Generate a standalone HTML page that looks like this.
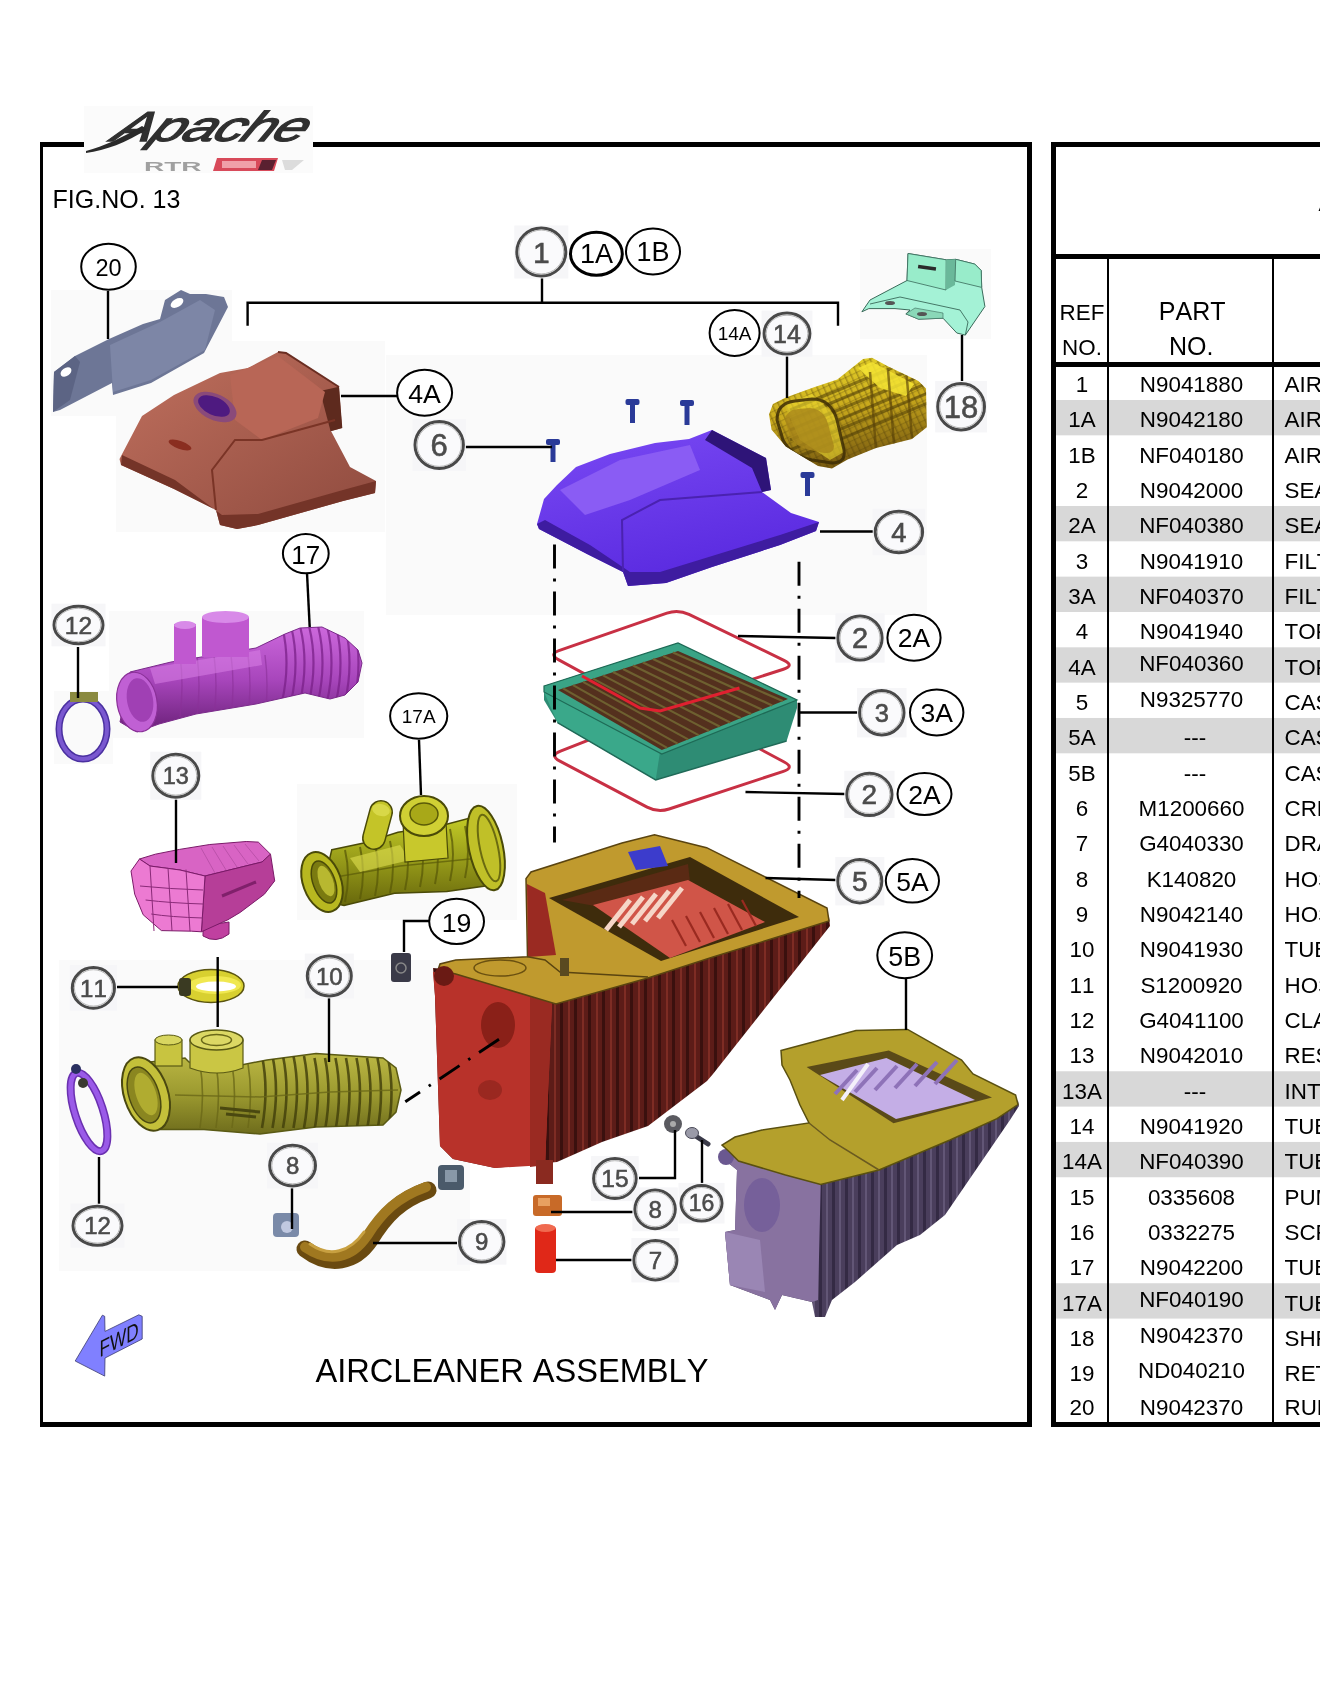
<!DOCTYPE html>
<html><head><meta charset="utf-8"><style>
html,body{margin:0;padding:0;background:#fff;width:1320px;height:1700px;overflow:hidden}
svg{display:block;will-change:transform}
text{font-family:"Liberation Sans", sans-serif;font-kerning:none;}
</style></head><body>
<svg width="1320" height="1700" viewBox="0 0 1320 1700" font-family='"Liberation Sans", sans-serif' font-size="22.4">
<defs>
<filter id="blur" x="-20%" y="-20%" width="140%" height="140%"><feGaussianBlur stdDeviation="0.6"/></filter>
<filter id="b1" x="-10%" y="-10%" width="120%" height="120%"><feGaussianBlur stdDeviation="1"/></filter>
</defs>
<rect x="116" y="341" width="269" height="191" fill="#fafafa"/>
<rect x="860" y="249" width="131" height="90" fill="#fafafa"/>
<rect x="109" y="611" width="255" height="127" fill="#fafafa"/>
<rect x="54" y="691" width="59" height="73" fill="#fafafa"/>
<rect x="297" y="784" width="220" height="136" fill="#fafafa"/>
<rect x="386" y="355" width="541" height="260" fill="#fafafa"/>
<rect x="51" y="290" width="181" height="126" fill="#fafafa"/>
<rect x="59" y="960" width="411" height="311" fill="#fafafa"/>
<rect x="515" y="227" width="53" height="51" fill="#fafafa"/>
<polygon points="53.0,412.0 54.0,372.0 75.0,356.0 109.0,339.0 143.0,324.0 160.0,319.0 165.0,300.0 181.0,290.0 190.0,294.0 206.0,294.0 224.0,297.0 228.0,307.0 216.0,330.0 204.0,353.0 151.0,383.0 113.0,395.0 112.0,383.0 60.0,410.0" fill="#6d7696"/>
<polygon points="110.0,345.0 160.0,322.0 200.0,300.0 215.0,310.0 205.0,350.0 151.0,380.0 113.0,392.0" fill="#7d86a6"/>
<polygon points="53.0,412.0 54.0,372.0 75.0,356.0 80.0,362.0 70.0,400.0" fill="#5c6484"/>
<ellipse cx="66" cy="372" rx="6" ry="4" transform="rotate(-35 66 372)" fill="#fff"/>
<ellipse cx="177" cy="303" rx="7" ry="4" transform="rotate(-30 177 303)" fill="#fff"/>
<defs><linearGradient id="g4a" x1="0" y1="0" x2="1" y2="1"><stop offset="0" stop-color="#c0705e"/><stop offset="1" stop-color="#8e4a3e"/></linearGradient></defs>
<polygon points="119.5,459.0 142.0,416.0 174.0,395.0 220.0,373.0 248.0,368.0 278.0,352.0 286.0,353.0 339.0,387.0 342.0,428.0 331.0,431.0 350.0,467.0 376.0,481.0 375.0,493.0 343.0,501.0 258.0,525.0 237.0,529.0 220.0,525.0 216.0,510.0 174.0,489.0 121.0,465.0" fill="url(#g4a)"/>
<polygon points="339.0,386.7 342.3,428.0 330.6,431.2 320.0,391.0" fill="#5e2a1e"/>
<polyline points="278.0,352.0 286.0,353.0 339.0,387.0" fill="none" stroke="#6a2e22" stroke-width="2"/>
<polygon points="230.0,375.0 278.0,356.0 325.0,392.0 318.0,418.0 262.0,440.0 235.0,420.0" fill="#b86656"/>
<polygon points="121.0,465.0 174.0,489.0 216.0,510.0 220.0,525.0 237.0,529.0 258.0,525.0 343.0,501.0 375.0,493.0 376.0,481.0 343.0,490.0 258.0,514.0 222.0,515.0 175.0,480.0 122.0,455.0" fill="#743428"/>
<polyline points="216.0,510.0 212.0,470.0 235.0,440.0 262.0,440.0 335.0,420.0" fill="none" stroke="#7a3426" stroke-width="2"/>
<ellipse cx="215" cy="407" rx="23" ry="13" transform="rotate(25 215 407)" fill="#8a4a7a"/>
<ellipse cx="214" cy="406" rx="17" ry="9" transform="rotate(25 214 406)" fill="#4e1a80"/>
<ellipse cx="180" cy="445" rx="12" ry="4" transform="rotate(20 180 445)" fill="#8a2e20"/>
<defs><linearGradient id="g14" x1="0" y1="0" x2="0.25" y2="1"><stop offset="0" stop-color="#ecdc2c"/><stop offset="0.55" stop-color="#c8a81c"/><stop offset="1" stop-color="#7a5c10"/></linearGradient><pattern id="p14" width="6" height="6" patternUnits="userSpaceOnUse" patternTransform="rotate(-25)"><rect width="6" height="6" fill="none"/><rect x="0" y="0" width="1.5" height="6" fill="#4a3a08" opacity="0.35"/><rect x="0" y="3" width="6" height="1.2" fill="#4a3a08" opacity="0.25"/></pattern></defs>
<defs><clipPath id="c14"><polygon points="769.0,414.4 772.9,404.0 785.8,397.6 814.0,387.3 837.3,379.6 863.0,359.0 872.0,357.7 888.8,366.7 918.4,381.0 926.0,388.6 926.8,427.3 912.0,438.9 876.0,447.9 847.6,459.5 832.0,468.5 818.0,466.0 785.8,446.6 771.6,429.8"/></clipPath></defs>
<polygon points="769.0,414.4 772.9,404.0 785.8,397.6 814.0,387.3 837.3,379.6 863.0,359.0 872.0,357.7 888.8,366.7 918.4,381.0 926.0,388.6 926.8,427.3 912.0,438.9 876.0,447.9 847.6,459.5 832.0,468.5 818.0,466.0 785.8,446.6 771.6,429.8" fill="url(#g14)"/>
<g clip-path="url(#c14)">
<polygon points="769.0,414.4 772.9,404.0 785.8,397.6 814.0,387.3 837.3,379.6 863.0,359.0 872.0,357.7 888.8,366.7 918.4,381.0 926.0,388.6 926.8,427.3 912.0,438.9 876.0,447.9 847.6,459.5 832.0,468.5 818.0,466.0 785.8,446.6 771.6,429.8" fill="url(#p14)"/>
<line x1="790" y1="410" x2="940" y2="348" stroke="#4e3c08" stroke-width="3" opacity="0.55"/>
<line x1="790" y1="420" x2="940" y2="358" stroke="#4e3c08" stroke-width="3" opacity="0.55"/>
<line x1="790" y1="430" x2="940" y2="368" stroke="#4e3c08" stroke-width="3" opacity="0.55"/>
<line x1="790" y1="440" x2="940" y2="378" stroke="#4e3c08" stroke-width="3" opacity="0.55"/>
<line x1="790" y1="450" x2="940" y2="388" stroke="#4e3c08" stroke-width="3" opacity="0.55"/>
<line x1="790" y1="460" x2="940" y2="398" stroke="#4e3c08" stroke-width="3" opacity="0.55"/>
<polygon points="858.0,368.0 872.0,362.0 914.0,384.0 906.0,396.0 880.0,388.0" fill="#f4e434" opacity="0.85"/>
<polygon points="784.0,404.0 812.0,394.0 838.0,418.0 844.0,452.0 830.0,460.0 800.0,440.0" fill="#ecd830" opacity="0.6"/>
<path d="M777,420 Q777,403 795,401 L812,399 Q831,399 837,420 L844,450 Q846,463 832,463 L812,460 Q791,456 783,440 Z" fill="none" stroke="#3e2e06" stroke-width="3" opacity="0.85"/>
<path d="M785,420 Q786,410 798,409 L810,408 Q824,409 828,424 L834,446 Q834,454 824,453 L810,450 Q795,447 790,436 Z" fill="#a8861a" opacity="0.8"/>
<line x1="870" y1="372" x2="876" y2="450" stroke="#5a4208" stroke-width="2.5" opacity="0.65"/>
<line x1="888" y1="370" x2="894" y2="444" stroke="#5a4208" stroke-width="2.5" opacity="0.65"/>
<line x1="906" y1="368" x2="912" y2="438" stroke="#5a4208" stroke-width="2.5" opacity="0.65"/>
</g>
<polygon points="908.0,253.5 946.2,259.8 955.7,259.3 974.8,264.1 981.2,270.5 981.7,287.4 984.9,306.5 965.3,335.1 956.8,333.0 943.0,318.2 918.6,319.2 905.9,313.9 910.0,310.0 895.0,308.6 868.8,308.6 861.9,311.8 870.0,300.0 907.0,280.5" fill="#a4f2d6" stroke="#3a6a5a" stroke-width="1"/>
<polygon points="908.0,253.5 946.2,259.8 946.0,290.0 907.0,280.5" fill="#98ecca" stroke="#3a6a5a" stroke-width="0.8"/>
<polygon points="946.2,259.8 955.7,259.3 955.0,285.0 946.0,290.0" fill="#6ab89a"/>
<polygon points="955.7,259.3 974.8,264.1 981.2,270.5 981.7,287.4 955.0,281.0" fill="#98ecca" stroke="#3a6a5a" stroke-width="0.8"/>
<polyline points="870.0,304.0 900.0,297.0 960.0,310.0 968.0,322.0 965.3,335.1" fill="none" stroke="#3a6a5a" stroke-width="0.9"/>
<polygon points="905.9,313.9 915.0,308.0 943.0,313.0 943.0,318.2 918.6,319.2" fill="#8ad8b8" stroke="#3a6a5a" stroke-width="0.6"/>
<ellipse cx="890" cy="303" rx="5" ry="2" fill="#555"/><ellipse cx="922" cy="314" rx="5" ry="2" fill="#555"/>
<rect x="918" y="266" width="18" height="3.5" fill="#2a2a2a" transform="rotate(8 927 268)"/>
<rect x="625.5" y="399" width="14" height="6" rx="2" fill="#2a3a98"/><rect x="630.0" y="403" width="5" height="20" fill="#2a3a98"/>
<rect x="680" y="400" width="14" height="6" rx="2" fill="#2a3a98"/><rect x="684.5" y="404" width="5" height="21" fill="#2a3a98"/>
<rect x="546" y="439" width="14" height="6" rx="2" fill="#2a3a98"/><rect x="550.5" y="443" width="5" height="19" fill="#2a3a98"/>
<rect x="800.5" y="472" width="14" height="6" rx="2" fill="#2a3a98"/><rect x="805.0" y="476" width="5" height="20" fill="#2a3a98"/>
<defs><linearGradient id="g4" x1="0" y1="0" x2="0.4" y2="1"><stop offset="0" stop-color="#7a4af4"/><stop offset="1" stop-color="#5a2ae0"/></linearGradient></defs>
<polygon points="537.0,524.0 544.0,499.0 557.0,485.0 576.0,467.0 610.0,454.0 655.0,443.0 689.0,439.0 712.0,430.0 766.0,458.0 771.0,490.0 762.0,492.0 791.0,513.0 819.0,522.0 816.0,531.0 780.0,545.0 712.0,567.0 666.0,583.0 628.0,586.0 623.0,572.0 587.0,554.0 539.0,529.0" fill="url(#g4)"/>
<polygon points="712.0,430.0 766.0,458.0 771.0,490.0 762.0,492.0 752.0,468.0 705.0,440.0" fill="#2e1478"/>
<polygon points="560.0,490.0 620.0,460.0 690.0,445.0 700.0,470.0 630.0,500.0 585.0,515.0" fill="#8a5cf4"/>
<polygon points="537.0,524.0 539.0,529.0 587.0,554.0 623.0,572.0 628.0,586.0 666.0,583.0 712.0,567.0 780.0,545.0 816.0,531.0 819.0,522.0 780.0,535.0 712.0,556.0 660.0,572.0 630.0,572.0 590.0,545.0 545.0,520.0" fill="#3e1ca0"/>
<polyline points="623.0,572.0 622.0,520.0 660.0,500.0 762.0,492.0" fill="none" stroke="#4a22b0" stroke-width="2"/>
<path d="M558.8,659.9 Q548.3,654.2 559.6,650.3 L666.9,613.1 Q678.2,609.2 689.0,614.4 L784.0,660.3 Q794.8,665.5 783.4,669.2 L665.0,707.8 Q653.6,711.5 643.1,705.8 Z" fill="none" stroke="#c83044" stroke-width="3"/>
<path d="M559.9,761.1 Q549.3,755.5 560.5,751.1 L666.8,709.4 Q678.0,705.0 688.6,710.7 L784.2,762.0 Q794.8,767.7 783.4,771.4 L669.1,809.0 Q657.7,812.7 647.1,807.1 Z" fill="none" stroke="#c83044" stroke-width="3"/>
<polygon points="544.0,686.0 678.0,643.0 797.0,700.0 797.0,708.0 786.6,741.0 655.7,780.0 557.5,722.7 544.0,700.0" fill="#2e8c74"/>
<polygon points="544.0,692.0 557.5,722.7 655.7,780.0 660.0,752.0 548.0,690.0" fill="#3aa88a"/>
<polygon points="544.0,686.0 678.0,643.0 797.0,700.0 661.8,754.0 544.0,692.0" fill="#3aa486" stroke="#1e6a56" stroke-width="1.2"/>
<polygon points="558.0,690.0 678.0,651.0 788.0,699.0 661.8,750.0" fill="#54301e"/>
<line x1="563.0" y1="688.4" x2="667.1" y2="747.9" stroke="#6e6030" stroke-width="2.2"/>
<line x1="573.0" y1="685.1" x2="677.6" y2="743.6" stroke="#6e6030" stroke-width="2.2"/>
<line x1="583.0" y1="681.9" x2="688.1" y2="739.4" stroke="#6e6030" stroke-width="2.2"/>
<line x1="593.0" y1="678.6" x2="698.6" y2="735.1" stroke="#6e6030" stroke-width="2.2"/>
<line x1="603.0" y1="675.4" x2="709.1" y2="730.9" stroke="#6e6030" stroke-width="2.2"/>
<line x1="613.0" y1="672.1" x2="719.6" y2="726.6" stroke="#6e6030" stroke-width="2.2"/>
<line x1="623.0" y1="668.9" x2="730.2" y2="722.4" stroke="#6e6030" stroke-width="2.2"/>
<line x1="633.0" y1="665.6" x2="740.7" y2="718.1" stroke="#6e6030" stroke-width="2.2"/>
<line x1="643.0" y1="662.4" x2="751.2" y2="713.9" stroke="#6e6030" stroke-width="2.2"/>
<line x1="653.0" y1="659.1" x2="761.7" y2="709.6" stroke="#6e6030" stroke-width="2.2"/>
<line x1="663.0" y1="655.9" x2="772.2" y2="705.4" stroke="#6e6030" stroke-width="2.2"/>
<line x1="673.0" y1="652.6" x2="782.7" y2="701.1" stroke="#6e6030" stroke-width="2.2"/>
<polyline points="582.0,676.0 640.0,708.0 660.0,711.0 739.5,688.0" fill="none" stroke="#e02030" stroke-width="3"/>
<polyline points="557.5,722.7 655.7,780.0 786.6,741.0" fill="none" stroke="#206a58" stroke-width="1.5"/>
<defs><linearGradient id="g17" x1="0" y1="0" x2="0" y2="1"><stop offset="0" stop-color="#cc68dc"/><stop offset="0.5" stop-color="#a846bc"/><stop offset="1" stop-color="#6a2078"/></linearGradient></defs>
<defs><clipPath id="c17"><polygon points="130.0,672.0 171.0,662.0 256.0,648.0 285.0,634.0 300.0,628.0 322.0,627.0 345.0,638.0 358.0,650.0 362.0,663.0 358.0,682.0 345.0,695.0 330.0,699.0 305.0,693.0 256.0,704.0 196.0,714.0 159.0,724.0 137.0,732.0 120.0,722.0"/></clipPath></defs>
<polygon points="130.0,672.0 171.0,662.0 256.0,648.0 285.0,634.0 300.0,628.0 322.0,627.0 345.0,638.0 358.0,650.0 362.0,663.0 358.0,682.0 345.0,695.0 330.0,699.0 305.0,693.0 256.0,704.0 196.0,714.0 159.0,724.0 137.0,732.0 120.0,722.0" fill="url(#g17)" stroke="#7a2a8a" stroke-width="1"/>
<g clip-path="url(#c17)">
<path d="M282,626 q9,36 0,76" fill="none" stroke="#7a2088" stroke-width="2.2" opacity="0.75"/>
<path d="M291,626 q9,36 0,76" fill="none" stroke="#7a2088" stroke-width="2.2" opacity="0.75"/>
<path d="M300,626 q9,36 0,76" fill="none" stroke="#7a2088" stroke-width="2.2" opacity="0.75"/>
<path d="M309,626 q9,36 0,76" fill="none" stroke="#7a2088" stroke-width="2.2" opacity="0.75"/>
<path d="M318,626 q9,36 0,76" fill="none" stroke="#7a2088" stroke-width="2.2" opacity="0.75"/>
<path d="M327,626 q9,36 0,76" fill="none" stroke="#7a2088" stroke-width="2.2" opacity="0.75"/>
<path d="M336,626 q9,36 0,76" fill="none" stroke="#7a2088" stroke-width="2.2" opacity="0.75"/>
<path d="M345,626 q9,36 0,76" fill="none" stroke="#7a2088" stroke-width="2.2" opacity="0.75"/>
<path d="M354,626 q9,36 0,76" fill="none" stroke="#7a2088" stroke-width="2.2" opacity="0.75"/>
<path d="M180,655 q4,30 0,62" fill="none" stroke="#8a3098" stroke-width="1.4" opacity="0.6"/>
<path d="M197,655 q4,30 0,62" fill="none" stroke="#8a3098" stroke-width="1.4" opacity="0.6"/>
<path d="M214,655 q4,30 0,62" fill="none" stroke="#8a3098" stroke-width="1.4" opacity="0.6"/>
<path d="M231,655 q4,30 0,62" fill="none" stroke="#8a3098" stroke-width="1.4" opacity="0.6"/>
<path d="M248,655 q4,30 0,62" fill="none" stroke="#8a3098" stroke-width="1.4" opacity="0.6"/>
<path d="M265,655 q4,30 0,62" fill="none" stroke="#8a3098" stroke-width="1.4" opacity="0.6"/>
<polygon points="150.0,668.0 260.0,650.0 262.0,665.0 155.0,684.0" fill="#d880e6" opacity="0.55"/>
</g>
<rect x="174" y="624" width="22" height="40" fill="#c058d0"/><ellipse cx="185" cy="625" rx="11" ry="4" fill="#d88ae8"/>
<rect x="202" y="617" width="47" height="40" fill="#c058d0"/><ellipse cx="225.5" cy="617" rx="23.5" ry="6" fill="#d88ae8"/>
<ellipse cx="137" cy="702" rx="20" ry="30" transform="rotate(-10 137 702)" fill="#c060d4" stroke="#8a3098" stroke-width="1.2"/>
<ellipse cx="140" cy="700" rx="13" ry="22" transform="rotate(-10 140 700)" fill="#a040b4"/>
<ellipse cx="83" cy="729" rx="24" ry="30" fill="none" stroke="#4a30a0" stroke-width="7"/>
<ellipse cx="83" cy="729" rx="24" ry="30" fill="none" stroke="#7a58d0" stroke-width="4"/>
<rect x="70" y="692" width="28" height="10" fill="#8a8a40"/>
<path d="M203,926 L203,936 Q216,944 229,934 L229,922 Z" fill="#c040a0" stroke="#7a1a68" stroke-width="1"/>
<polygon points="139.5,859.0 155.3,854.2 179.5,849.4 209.8,844.5 246.2,841.5 258.3,842.1 270.5,854.2 262.0,862.0 205.0,876.0 180.0,870.0 150.0,866.0" fill="#d864c4" stroke="#7a1a68" stroke-width="1"/>
<polygon points="205.0,876.0 262.0,862.0 270.5,854.2 274.7,880.9 264.4,894.2 240.2,912.4 228.0,919.7 201.4,931.8" fill="#b63e98" stroke="#7a1a68" stroke-width="1"/>
<polygon points="131.0,871.0 139.5,859.0 150.0,866.0 180.0,870.0 205.0,876.0 201.4,931.8 191.7,931.2 161.4,930.6 143.2,914.8 134.7,894.2" fill="#ec7ad2" stroke="#7a1a68" stroke-width="1"/>
<path d="M140.0,886 Q170,889 203,890" fill="none" stroke="#8a2a78" stroke-width="1"/>
<path d="M145.6,900 Q170,903 203,904" fill="none" stroke="#8a2a78" stroke-width="1"/>
<path d="M151.2,914 Q170,917 203,918" fill="none" stroke="#8a2a78" stroke-width="1"/>
<path d="M150,866.0 L154,931" fill="none" stroke="#8a2a78" stroke-width="1"/>
<path d="M168,867.8 L172,931" fill="none" stroke="#8a2a78" stroke-width="1"/>
<path d="M186,869.6 L190,931" fill="none" stroke="#8a2a78" stroke-width="1"/>
<line x1="215" y1="873" x2="201" y2="848" stroke="#b04aa0" stroke-width="1" opacity="0.7"/>
<line x1="226" y1="870" x2="212" y2="847" stroke="#b04aa0" stroke-width="1" opacity="0.7"/>
<line x1="237" y1="867" x2="223" y2="846" stroke="#b04aa0" stroke-width="1" opacity="0.7"/>
<line x1="248" y1="864" x2="234" y2="845" stroke="#b04aa0" stroke-width="1" opacity="0.7"/>
<line x1="259" y1="861" x2="245" y2="844" stroke="#b04aa0" stroke-width="1" opacity="0.7"/>
<path d="M222,896 l34,-14" stroke="#6a1458" stroke-width="3" opacity="0.7"/>
<defs><linearGradient id="g17a" x1="0" y1="0" x2="0" y2="1"><stop offset="0" stop-color="#c2ca26"/><stop offset="1" stop-color="#68680c"/></linearGradient></defs>
<defs><clipPath id="c17a"><polygon points="331.8,849.7 365.0,842.7 398.0,832.3 440.0,826.0 470.0,818.0 490.0,830.0 500.0,860.0 495.6,884.5 446.8,891.5 394.5,893.3 344.0,905.5 320.0,900.0"/></clipPath></defs>
<polygon points="331.8,849.7 365.0,842.7 398.0,832.3 440.0,826.0 470.0,818.0 490.0,830.0 500.0,860.0 495.6,884.5 446.8,891.5 394.5,893.3 344.0,905.5 320.0,900.0" fill="url(#g17a)" stroke="#4a4a08" stroke-width="1.5"/>
<g clip-path="url(#c17a)">
<path d="M345,850 q6,25 0,52" fill="none" stroke="#5a5a08" stroke-width="2" opacity="0.75"/>
<path d="M360,847 q6,25 0,52" fill="none" stroke="#5a5a08" stroke-width="2" opacity="0.75"/>
<path d="M375,844 q6,25 0,52" fill="none" stroke="#5a5a08" stroke-width="2" opacity="0.75"/>
<path d="M390,841 q6,25 0,52" fill="none" stroke="#5a5a08" stroke-width="2" opacity="0.75"/>
<path d="M405,838 q6,25 0,52" fill="none" stroke="#5a5a08" stroke-width="2" opacity="0.75"/>
<path d="M420,835 q6,25 0,52" fill="none" stroke="#5a5a08" stroke-width="2" opacity="0.75"/>
<path d="M435,832 q6,25 0,52" fill="none" stroke="#5a5a08" stroke-width="2" opacity="0.75"/>
<path d="M450,829 q6,25 0,52" fill="none" stroke="#5a5a08" stroke-width="2" opacity="0.75"/>
<path d="M465,826 q6,25 0,52" fill="none" stroke="#5a5a08" stroke-width="2" opacity="0.75"/>
<polyline points="330.0,878.0 400.0,866.0 480.0,858.0" fill="none" stroke="#5a5a08" stroke-width="1.6" opacity="0.7"/>
<polygon points="350.0,858.0 400.0,845.0 410.0,860.0 360.0,872.0" fill="#e0e050" opacity="0.6"/>
</g>
<line x1="374" y1="838" x2="381" y2="812" stroke="#4a4a08" stroke-width="24" stroke-linecap="round"/>
<line x1="374" y1="838" x2="381" y2="812" stroke="#c4c428" stroke-width="21" stroke-linecap="round"/>
<ellipse cx="381" cy="810" rx="9" ry="6" transform="rotate(15 381 810)" fill="#d8d848"/>
<polygon points="403.0,822.0 446.0,822.0 448.0,858.0 405.0,862.0" fill="#c8c82c" stroke="#4a4a08" stroke-width="1.2"/>
<ellipse cx="424" cy="816" rx="24" ry="20" fill="#d0d034" stroke="#4a4a08" stroke-width="2"/>
<ellipse cx="424" cy="814" rx="14" ry="11" fill="#a8a818" stroke="#5a5a08" stroke-width="1.5"/>
<ellipse cx="486" cy="848" rx="17" ry="43" transform="rotate(-12 486 848)" fill="#c0c028" stroke="#4a4a08" stroke-width="2"/>
<ellipse cx="489" cy="848" rx="9" ry="34" transform="rotate(-12 489 848)" fill="none" stroke="#6a6a10" stroke-width="2"/>
<ellipse cx="322" cy="882" rx="19" ry="31" transform="rotate(-20 322 882)" fill="#b8b820" stroke="#4a4a08" stroke-width="2"/>
<ellipse cx="324" cy="882" rx="11" ry="22" transform="rotate(-20 324 882)" fill="#7a7a10" stroke="#4a4a08" stroke-width="1.5"/>
<ellipse cx="326" cy="881" rx="7" ry="16" transform="rotate(-20 326 881)" fill="#b8b830"/>
<rect x="391" y="953" width="20" height="29" rx="3" fill="#3a3a48"/><circle cx="401" cy="968" r="5" fill="none" stroke="#888" stroke-width="1.5"/>
<ellipse cx="211" cy="986" rx="33" ry="16.5" fill="#d8d030" stroke="#5a5410" stroke-width="1.5"/>
<ellipse cx="215" cy="985" rx="26" ry="9" fill="#f0e850"/>
<ellipse cx="216" cy="986.5" rx="20" ry="5" fill="#fff"/>
<rect x="179" y="978" width="12" height="18" rx="3" fill="#3a3a22"/>
<defs><linearGradient id="g10" x1="0" y1="0" x2="0" y2="1"><stop offset="0" stop-color="#bcb844"/><stop offset="0.5" stop-color="#9c9a30"/><stop offset="1" stop-color="#6e6c1c"/></linearGradient></defs>
<defs><clipPath id="c10"><polygon points="150.0,1062.0 185.0,1058.0 189.0,1062.0 242.4,1064.7 267.0,1060.0 316.0,1053.5 383.0,1058.0 396.0,1068.0 401.0,1090.0 396.0,1112.0 383.0,1125.0 316.0,1127.0 260.0,1134.0 204.0,1129.5 160.0,1129.5"/></clipPath></defs>
<polygon points="150.0,1062.0 185.0,1058.0 189.0,1062.0 242.4,1064.7 267.0,1060.0 316.0,1053.5 383.0,1058.0 396.0,1068.0 401.0,1090.0 396.0,1112.0 383.0,1125.0 316.0,1127.0 260.0,1134.0 204.0,1129.5 160.0,1129.5" fill="url(#g10)" stroke="#5a5a14" stroke-width="1.5"/>
<g clip-path="url(#c10)">
<path d="M262.0,1056 q7,34 0,72" fill="none" stroke="#44420c" stroke-width="2.6" opacity="0.85"/>
<path d="M272.5,1056 q7,34 0,72" fill="none" stroke="#44420c" stroke-width="2.6" opacity="0.85"/>
<path d="M283.0,1056 q7,34 0,72" fill="none" stroke="#44420c" stroke-width="2.6" opacity="0.85"/>
<path d="M293.5,1056 q7,34 0,72" fill="none" stroke="#44420c" stroke-width="2.6" opacity="0.85"/>
<path d="M304.0,1056 q7,34 0,72" fill="none" stroke="#44420c" stroke-width="2.6" opacity="0.85"/>
<path d="M314.5,1058 q7,34 0,72" fill="none" stroke="#44420c" stroke-width="2.6" opacity="0.85"/>
<path d="M325.0,1058 q7,34 0,72" fill="none" stroke="#44420c" stroke-width="2.6" opacity="0.85"/>
<path d="M335.5,1058 q7,34 0,72" fill="none" stroke="#44420c" stroke-width="2.6" opacity="0.85"/>
<path d="M346.0,1058 q7,34 0,72" fill="none" stroke="#44420c" stroke-width="2.6" opacity="0.85"/>
<path d="M356.5,1058 q7,34 0,72" fill="none" stroke="#44420c" stroke-width="2.6" opacity="0.85"/>
<path d="M367.0,1058 q7,34 0,72" fill="none" stroke="#44420c" stroke-width="2.6" opacity="0.85"/>
<path d="M377.5,1058 q7,34 0,72" fill="none" stroke="#44420c" stroke-width="2.6" opacity="0.85"/>
<path d="M388.0,1058 q7,34 0,72" fill="none" stroke="#44420c" stroke-width="2.6" opacity="0.85"/>
<path d="M200,1064 q5,30 0,64" fill="none" stroke="#6a6818" stroke-width="1.6" opacity="0.8"/>
<path d="M216,1064 q5,30 0,64" fill="none" stroke="#6a6818" stroke-width="1.6" opacity="0.8"/>
<path d="M232,1064 q5,30 0,64" fill="none" stroke="#6a6818" stroke-width="1.6" opacity="0.8"/>
<path d="M248,1064 q5,30 0,64" fill="none" stroke="#6a6818" stroke-width="1.6" opacity="0.8"/>
<polyline points="175.0,1095.0 260.0,1097.0 330.0,1092.0 398.0,1090.0" fill="none" stroke="#6a6818" stroke-width="1.5" opacity="0.8"/>
<path d="M220,1108 l40,4 M226,1114 l30,3" stroke="#4a4810" stroke-width="3"/>
</g>
<rect x="155" y="1040" width="27" height="26" fill="#c8c440" stroke="#5a5a14" stroke-width="1.2"/><ellipse cx="168.5" cy="1040" rx="13.5" ry="5" fill="#d8d660" stroke="#5a5a14" stroke-width="1"/>
<path d="M190,1040 L190,1068 Q217,1078 243,1068 L243,1040 Z" fill="#cac644" stroke="#5a5a14" stroke-width="1.2"/>
<ellipse cx="216.5" cy="1040" rx="26.5" ry="10" fill="#dcd864" stroke="#5a5a14" stroke-width="1.5"/>
<ellipse cx="216.5" cy="1040" rx="15" ry="5.5" fill="none" stroke="#6a6818" stroke-width="1.5"/>
<ellipse cx="146" cy="1094" rx="22" ry="38" transform="rotate(-18 146 1094)" fill="#c4c03a" stroke="#4a4810" stroke-width="2"/>
<ellipse cx="144" cy="1095" rx="15" ry="29" transform="rotate(-18 144 1095)" fill="#8a8620" stroke="#4a4810" stroke-width="1.5"/>
<ellipse cx="146" cy="1094" rx="10" ry="22" transform="rotate(-18 146 1094)" fill="#b0ac30"/>
<ellipse cx="89" cy="1112" rx="14" ry="41" transform="rotate(-18 89 1112)" fill="none" stroke="#6a30b0" stroke-width="8"/>
<ellipse cx="89" cy="1112" rx="14" ry="41" transform="rotate(-18 89 1112)" fill="none" stroke="#9a5ae8" stroke-width="5"/>
<circle cx="76" cy="1069" r="5" fill="#2a3060"/><circle cx="83" cy="1083" r="5" fill="#3a3a30"/>
<rect x="273" y="1213" width="26" height="24" rx="4" fill="#7a8aa8"/><circle cx="287" cy="1227" r="6" fill="#c0c8e0"/>
<rect x="438" y="1165" width="26" height="25" rx="4" fill="#4a5a6a"/><rect x="445" y="1170" width="12" height="12" fill="#8898a8"/>
<path d="M305,1249 C330,1268 355,1262 370,1240 C385,1215 400,1200 428,1190" fill="none" stroke="#6a4a10" stroke-width="17" stroke-linecap="round"/>
<path d="M305,1247 C330,1264 352,1258 367,1236 C382,1212 398,1197 426,1187" fill="none" stroke="#a07820" stroke-width="10" stroke-linecap="round"/>
<path d="M310,1244 C330,1258 350,1252 364,1232" fill="none" stroke="#c8a040" stroke-width="3" stroke-linecap="round"/>
<polygon points="75.2,1361.0 102.4,1315.2 104.7,1316.3 105.0,1331.4 138.8,1314.8 142.2,1316.3 142.2,1339.0 105.0,1358.0 104.7,1376.1" fill="#8080ff" stroke="#3a3a70" stroke-width="0.8"/>
<text transform="matrix(0.74,-0.38,0,1,99.5,1357.5)" font-size="23.3" fill="#111">FWD</text>
<defs><pattern id="p5" width="14" height="20" patternUnits="userSpaceOnUse"><rect width="14" height="20" fill="#5c1c18"/><rect x="0" width="3" height="20" fill="#3a100e"/><rect x="8" width="2" height="20" fill="#7e2c24"/></pattern><pattern id="p5b" width="13" height="20" patternUnits="userSpaceOnUse"><rect width="13" height="20" fill="#4a3e5c"/><rect x="0" width="3" height="20" fill="#342a44"/><rect x="7" width="2" height="20" fill="#625676"/></pattern></defs>
<polygon points="433.0,968.0 455.8,970.0 556.0,1000.0 648.0,975.0 713.0,955.0 794.6,929.8 829.0,917.0 830.0,926.0 713.0,1074.0 707.0,1081.0 648.0,1126.0 602.0,1142.0 557.0,1162.0 495.0,1168.0 453.0,1159.0 440.0,1146.0 435.0,996.0" fill="url(#p5)"/>
<polygon points="433.0,972.0 455.8,974.0 552.0,1003.0 545.0,1165.0 495.0,1168.0 453.0,1159.0 440.0,1146.0 435.0,996.0" fill="#b8322a"/>
<polygon points="530.0,997.0 552.0,1003.0 545.0,1165.0 530.0,1167.0" fill="#9a2a22"/>
<ellipse cx="498" cy="1025" rx="17" ry="23" fill="#8a2018"/>
<ellipse cx="490" cy="1090" rx="12" ry="10" fill="#9a2820"/>
<rect x="536" y="1160" width="17" height="24" fill="#8a2a20"/>
<polygon points="526.0,878.6 531.0,872.0 622.0,843.0 654.5,834.7 706.6,847.7 827.0,908.0 829.0,921.0 794.6,931.8 713.0,957.0 648.0,978.0 556.0,1004.0 455.8,974.0 438.0,970.0 440.0,964.0 455.8,960.0 527.5,956.8" fill="#c09a2e" stroke="#5a4410" stroke-width="1.5"/>
<polygon points="527.0,884.0 545.0,893.0 556.0,955.0 528.0,957.0" fill="#9a2a22"/>
<polygon points="549.0,898.0 690.0,857.0 799.0,917.0 661.0,961.0" fill="#3e2c0c"/>
<polygon points="562.0,900.0 688.0,864.0 690.0,882.0 595.0,906.0" fill="#5a2a14"/>
<polygon points="593.0,905.0 688.0,880.0 765.0,922.0 670.0,958.0" fill="#d05548"/>
<line x1="606" y1="930" x2="630" y2="900" stroke="#f6d6c8" stroke-width="5"/>
<line x1="619" y1="927" x2="643" y2="897" stroke="#f6d6c8" stroke-width="5"/>
<line x1="632" y1="924" x2="656" y2="894" stroke="#f6d6c8" stroke-width="5"/>
<line x1="645" y1="921" x2="669" y2="891" stroke="#f6d6c8" stroke-width="5"/>
<line x1="658" y1="918" x2="682" y2="888" stroke="#f6d6c8" stroke-width="5"/>
<line x1="672" y1="920" x2="686" y2="946" stroke="#9a2a20" stroke-width="2.2"/>
<line x1="686" y1="916" x2="700" y2="942" stroke="#9a2a20" stroke-width="2.2"/>
<line x1="700" y1="912" x2="714" y2="938" stroke="#9a2a20" stroke-width="2.2"/>
<line x1="714" y1="908" x2="728" y2="934" stroke="#9a2a20" stroke-width="2.2"/>
<line x1="728" y1="904" x2="742" y2="930" stroke="#9a2a20" stroke-width="2.2"/>
<line x1="742" y1="900" x2="756" y2="926" stroke="#9a2a20" stroke-width="2.2"/>
<polygon points="628.0,852.0 660.0,846.0 668.0,866.0 636.0,870.0" fill="#3c3ccc"/>
<circle cx="444" cy="976" r="10" fill="#6a1a14"/>
<polyline points="527.5,956.8 545.0,960.0 560.0,972.0 648.0,977.0" fill="none" stroke="#5a4410" stroke-width="1.5"/>
<ellipse cx="500" cy="968" rx="26" ry="8" fill="none" stroke="#6a5010" stroke-width="1.5"/>
<rect x="560" y="958" width="9" height="18" fill="#5a4a20"/>
<circle cx="673" cy="1124" r="9" fill="#5a5a60"/><circle cx="673" cy="1124" r="3" fill="#aaa"/>
<line x1="694" y1="1135" x2="708" y2="1144" stroke="#3a3a48" stroke-width="5" stroke-linecap="round"/>
<ellipse cx="692" cy="1133" rx="6.5" ry="5.5" fill="#9a9aa8" stroke="#4a4a58" stroke-width="1"/>
<rect x="533" y="1195" width="29" height="21" rx="3" fill="#c86a28"/><rect x="538" y="1198" width="12" height="8" fill="#e8a060"/>
<rect x="535" y="1226" width="21" height="47" rx="4" fill="#e02818"/><ellipse cx="545.5" cy="1228" rx="10" ry="4" fill="#f06a50"/>
<polygon points="729.0,1147.5 820.7,1180.4 1018.0,1100.5 1019.0,1106.0 1010.0,1120.0 945.0,1215.0 920.0,1235.0 897.0,1245.0 855.0,1282.0 832.0,1300.0 825.0,1317.0 815.0,1317.0 812.0,1302.0 782.0,1295.0 775.0,1310.0 770.0,1300.0 730.0,1285.0 725.0,1232.0 735.0,1230.0 737.0,1170.0 721.0,1157.0" fill="url(#p5b)"/>
<polygon points="721.0,1157.0 729.0,1151.5 820.7,1184.4 818.0,1300.0 812.0,1302.0 782.0,1295.0 775.0,1310.0 770.0,1300.0 730.0,1285.0 725.0,1232.0 735.0,1230.0 737.0,1170.0" fill="#8872a0"/>
<ellipse cx="762" cy="1205" rx="18" ry="27" fill="#76609a"/>
<polygon points="725.0,1232.0 760.0,1240.0 765.0,1292.0 730.0,1285.0" fill="#9a86b4"/>
<circle cx="726" cy="1157" r="8" fill="#6a5890"/>
<polygon points="781.0,1050.5 856.0,1030.6 907.6,1029.4 961.6,1060.0 973.0,1074.0 1015.6,1095.0 1018.0,1104.5 997.0,1118.6 950.0,1140.0 879.0,1170.0 820.7,1184.4 785.5,1175.0 738.5,1161.0 729.0,1151.5 722.0,1145.0 735.0,1137.0 762.0,1130.0 809.0,1123.0 800.0,1105.0 790.0,1080.0 782.0,1065.0" fill="#b4a02c" stroke="#5a5010" stroke-width="1.5"/>
<polygon points="806.6,1067.0 888.8,1050.5 992.0,1097.5 893.5,1123.3" fill="#5a4a18"/>
<polygon points="820.0,1075.0 886.4,1058.0 975.0,1100.0 896.0,1119.0" fill="#c4aee6"/>
<line x1="835" y1="1094" x2="857" y2="1070" stroke="#8e72b8" stroke-width="4"/>
<line x1="855" y1="1092" x2="877" y2="1068" stroke="#8e72b8" stroke-width="4"/>
<line x1="875" y1="1090" x2="897" y2="1066" stroke="#8e72b8" stroke-width="4"/>
<line x1="895" y1="1088" x2="917" y2="1064" stroke="#8e72b8" stroke-width="4"/>
<line x1="915" y1="1086" x2="937" y2="1062" stroke="#8e72b8" stroke-width="4"/>
<line x1="935" y1="1084" x2="957" y2="1060" stroke="#8e72b8" stroke-width="4"/>
<line x1="842" y1="1100" x2="868" y2="1064" stroke="#f4f0fa" stroke-width="4"/>
<polyline points="809.0,1123.0 830.0,1140.0 879.0,1170.0" fill="none" stroke="#6a5a20" stroke-width="1.5"/>
<rect x="40" y="142" width="3" height="1285" fill="#000"/>
<rect x="40" y="142" width="992" height="5" fill="#000"/>
<rect x="1027" y="142" width="5" height="1285" fill="#000"/>
<rect x="40" y="1422" width="992" height="5" fill="#000"/>
<text x="52.6" y="208" font-size="25">FIG.NO. 13</text>
<text x="315.5" y="1382" font-size="32.6">AIRCLEANER ASSEMBLY</text>
<rect x="84" y="105" width="229" height="70" fill="#fff"/>
<rect x="84" y="106" width="229" height="67" fill="#fbfbfb"/>
<g transform="translate(110,141) scale(1.47,1.05) skewX(-22)"><text x="0" y="0" font-family="Liberation Sans" font-style="italic" font-size="40" fill="#303030" stroke="#303030" stroke-width="1.2" letter-spacing="-1">Apache</text></g>
<path d="M86,151 C104,146 122,138 142,126 L147,129 C126,143 106,150 86,153 Z" fill="#2a2a2a"/>
<text x="0" y="0" font-size="16" fill="#a0a0a0" font-weight="bold" transform="translate(144,170.5) scale(1.75,0.85)">RTR</text>
<polygon points="217.0,158.0 278.0,158.0 274.0,171.0 213.0,171.0" fill="#d84a5a"/>
<rect x="222" y="161" width="34" height="7" fill="#f0a0a8"/>
<polygon points="262.0,160.0 276.0,160.0 272.0,170.0 258.0,170.0" fill="#5a2030"/>
<polygon points="282.0,160.0 304.0,160.0 292.0,170.0 285.0,170.0" fill="#dcdcdc"/>
<polyline points="108,291 108,339" fill="none" stroke="#000" stroke-width="2.4"/>
<polyline points="247.6,325.8 247.6,302.8 838,302.8 838,325.8" fill="none" stroke="#000" stroke-width="2.4"/>
<polyline points="542,278 542,302.8" fill="none" stroke="#000" stroke-width="2.4"/>
<polyline points="341,396 398,396" fill="none" stroke="#000" stroke-width="2.4"/>
<polyline points="464,447 552,447" fill="none" stroke="#000" stroke-width="2.4"/>
<polyline points="787,356 787,398" fill="none" stroke="#000" stroke-width="2.4"/>
<polyline points="962,335 962,382" fill="none" stroke="#000" stroke-width="2.4"/>
<polyline points="820,531.5 875,531.5" fill="none" stroke="#000" stroke-width="2.4"/>
<polyline points="307,573 309.7,627" fill="none" stroke="#000" stroke-width="2.4"/>
<polyline points="78,647 78,698" fill="none" stroke="#000" stroke-width="2.4"/>
<polyline points="176,798 176,863" fill="none" stroke="#000" stroke-width="2.4"/>
<polyline points="419,740 421,795" fill="none" stroke="#000" stroke-width="2.4"/>
<polyline points="429,921 404,921 404,952" fill="none" stroke="#000" stroke-width="2.4"/>
<polyline points="116,987 178,987" fill="none" stroke="#000" stroke-width="2.4"/>
<polyline points="217.7,957 217.7,1027" fill="none" stroke="#000" stroke-width="2.4"/>
<polyline points="329,997.5 329,1062" fill="none" stroke="#000" stroke-width="2.4"/>
<polyline points="99,1157 99,1205" fill="none" stroke="#000" stroke-width="2.4"/>
<polyline points="292,1187 292,1229" fill="none" stroke="#000" stroke-width="2.4"/>
<polyline points="373,1243 457,1243" fill="none" stroke="#000" stroke-width="2.4"/>
<polyline points="738,636 836,638" fill="none" stroke="#000" stroke-width="2.4"/>
<polyline points="800,712.5 858,712.5" fill="none" stroke="#000" stroke-width="2.4"/>
<polyline points="745.5,792 845,794" fill="none" stroke="#000" stroke-width="2.4"/>
<polyline points="765.5,878 836,880" fill="none" stroke="#000" stroke-width="2.4"/>
<polyline points="906,979 906,1030" fill="none" stroke="#000" stroke-width="2.4"/>
<polyline points="639,1178 675,1178 675,1130" fill="none" stroke="#000" stroke-width="2.4"/>
<polyline points="702,1184 702,1140" fill="none" stroke="#000" stroke-width="2.4"/>
<polyline points="551,1212 633,1212" fill="none" stroke="#000" stroke-width="2.4"/>
<polyline points="556,1260 633,1260" fill="none" stroke="#000" stroke-width="2.4"/>
<line x1="554.5" y1="544.6" x2="554.5" y2="842.6" stroke="#000" stroke-width="2.9" stroke-dasharray="24 10 3 10"/>
<line x1="799" y1="561.8" x2="799" y2="898" stroke="#000" stroke-width="2.9" stroke-dasharray="24 10 3 10"/>
<line x1="499" y1="1039.2" x2="405.3" y2="1101.8" stroke="#000" stroke-width="2.9" stroke-dasharray="24 10.5 2.5 10.5"/>
<rect x="514.3" y="225.5" width="54" height="53.0" fill="#f6f6f8"/>
<rect x="412.5" y="419" width="53.4" height="52" fill="#f6f6f8"/>
<rect x="761.6" y="310.6" width="50.8" height="46" fill="#f6f6f8"/>
<rect x="935.2" y="381.0" width="51.8" height="51.4" fill="#f6f6f8"/>
<rect x="872.6999999999999" y="508.8" width="52.4" height="46.4" fill="#f6f6f8"/>
<rect x="51.5" y="603.7" width="54" height="42.6" fill="#f6f6f8"/>
<rect x="150.3" y="751.7" width="51.0" height="48" fill="#f6f6f8"/>
<rect x="835.4" y="613.4" width="49.2" height="49.2" fill="#f6f6f8"/>
<rect x="857.0999999999999" y="688.0" width="49.4" height="49.4" fill="#f6f6f8"/>
<rect x="844.3" y="770.8" width="50.2" height="47.2" fill="#f6f6f8"/>
<rect x="835.3" y="857.0" width="49.0" height="48.4" fill="#f6f6f8"/>
<rect x="69.80000000000001" y="965.1" width="47.2" height="45.6" fill="#f6f6f8"/>
<rect x="304.8" y="953.6" width="49.0" height="44.8" fill="#f6f6f8"/>
<rect x="70.5" y="1203.7" width="54" height="44" fill="#f6f6f8"/>
<rect x="267.20000000000005" y="1142.8" width="50.8" height="45.6" fill="#f6f6f8"/>
<rect x="457.0" y="1219.0" width="49.4" height="45.6" fill="#f6f6f8"/>
<rect x="591.1" y="1156.1" width="47.6" height="45.0" fill="#f6f6f8"/>
<rect x="632.4" y="1187.3999999999999" width="45.4" height="43.8" fill="#f6f6f8"/>
<rect x="678.5" y="1182.9" width="46" height="40.6" fill="#f6f6f8"/>
<rect x="631.4" y="1238.0" width="48" height="44.4" fill="#f6f6f8"/>
<ellipse cx="108.5" cy="266.7" rx="27.3" ry="23.0" fill="#fff" stroke="#000" stroke-width="2"/>
<text x="108.5" y="276.00" text-anchor="middle" font-size="23.5">20</text>
<ellipse cx="424.6" cy="392.7" rx="27.5" ry="23.0" fill="#fff" stroke="#000" stroke-width="2"/>
<text x="424.6" y="402.90" text-anchor="middle" font-size="26.7">4A</text>
<ellipse cx="596.4" cy="253.8" rx="25.9" ry="21.5" fill="#fff" stroke="#000" stroke-width="3"/>
<text x="596.4" y="263.40" text-anchor="middle" font-size="27">1A</text>
<ellipse cx="653" cy="251.5" rx="27.0" ry="23.0" fill="#fff" stroke="#000" stroke-width="2"/>
<text x="653" y="261.30" text-anchor="middle" font-size="27">1B</text>
<ellipse cx="734.6" cy="333" rx="25.0" ry="23.0" fill="#fff" stroke="#000" stroke-width="2"/>
<text x="734.6" y="340.20" text-anchor="middle" font-size="19">14A</text>
<ellipse cx="305.8" cy="553.6" rx="22.9" ry="19.7" fill="#fff" stroke="#000" stroke-width="2"/>
<text x="305.8" y="563.70" text-anchor="middle" font-size="26">17</text>
<ellipse cx="418.7" cy="716" rx="28.6" ry="22.7" fill="#fff" stroke="#000" stroke-width="2"/>
<text x="418.7" y="723.20" text-anchor="middle" font-size="19">17A</text>
<ellipse cx="456.6" cy="921.4" rx="27.4" ry="22.6" fill="#fff" stroke="#000" stroke-width="2"/>
<text x="456.6" y="932.30" text-anchor="middle" font-size="26.7">19</text>
<ellipse cx="914" cy="637.8" rx="26.6" ry="23.0" fill="#fff" stroke="#000" stroke-width="2"/>
<text x="914" y="647.00" text-anchor="middle" font-size="26.5">2A</text>
<ellipse cx="936.7" cy="712.4" rx="26.7" ry="23.0" fill="#fff" stroke="#000" stroke-width="2"/>
<text x="936.7" y="722.40" text-anchor="middle" font-size="26.5">3A</text>
<ellipse cx="924.5" cy="794" rx="27.0" ry="21.0" fill="#fff" stroke="#000" stroke-width="2"/>
<text x="924.5" y="804.00" text-anchor="middle" font-size="26.5">2A</text>
<ellipse cx="912.4" cy="880.8" rx="26.6" ry="21.8" fill="#fff" stroke="#000" stroke-width="2"/>
<text x="912.4" y="890.80" text-anchor="middle" font-size="26.5">5A</text>
<ellipse cx="904.7" cy="955.2" rx="27.4" ry="23.0" fill="#fff" stroke="#000" stroke-width="2"/>
<text x="904.7" y="966.10" text-anchor="middle" font-size="26.8">5B</text>
<g filter="url(#blur)"><ellipse cx="541.3" cy="252" rx="24.5" ry="24.0" fill="#fafafc" stroke="#4a4a4a" stroke-width="3"/>
<ellipse cx="541.3" cy="252" rx="22.4" ry="21.9" fill="none" stroke="#b8b8b8" stroke-width="1"/>
<text x="541.3" y="262.80" text-anchor="middle" font-size="30" fill="#4c4c4c" stroke="#4c4c4c" stroke-width="0.6">1</text></g>
<g filter="url(#blur)"><ellipse cx="439.2" cy="445" rx="24.2" ry="23.5" fill="#fafafc" stroke="#4a4a4a" stroke-width="3"/>
<ellipse cx="439.2" cy="445" rx="22.099999999999998" ry="21.4" fill="none" stroke="#b8b8b8" stroke-width="1"/>
<text x="439.2" y="456.16" text-anchor="middle" font-size="31" fill="#4c4c4c" stroke="#4c4c4c" stroke-width="0.6">6</text></g>
<g filter="url(#blur)"><ellipse cx="787" cy="333.6" rx="22.9" ry="20.5" fill="#fafafc" stroke="#4a4a4a" stroke-width="3"/>
<ellipse cx="787" cy="333.6" rx="20.799999999999997" ry="18.4" fill="none" stroke="#b8b8b8" stroke-width="1"/>
<text x="787" y="342.60" text-anchor="middle" font-size="25" fill="#4c4c4c" stroke="#4c4c4c" stroke-width="0.6">14</text></g>
<g filter="url(#blur)"><ellipse cx="961.1" cy="406.7" rx="23.4" ry="23.2" fill="#fafafc" stroke="#4a4a4a" stroke-width="3"/>
<ellipse cx="961.1" cy="406.7" rx="21.299999999999997" ry="21.099999999999998" fill="none" stroke="#b8b8b8" stroke-width="1"/>
<text x="961.1" y="417.86" text-anchor="middle" font-size="31" fill="#4c4c4c" stroke="#4c4c4c" stroke-width="0.6">18</text></g>
<g filter="url(#blur)"><ellipse cx="898.9" cy="532" rx="23.7" ry="20.7" fill="#fafafc" stroke="#4a4a4a" stroke-width="3"/>
<ellipse cx="898.9" cy="532" rx="21.599999999999998" ry="18.599999999999998" fill="none" stroke="#b8b8b8" stroke-width="1"/>
<text x="898.9" y="541.86" text-anchor="middle" font-size="27.4" fill="#4c4c4c" stroke="#4c4c4c" stroke-width="0.6">4</text></g>
<g filter="url(#blur)"><ellipse cx="78.5" cy="625" rx="24.5" ry="18.8" fill="#fafafc" stroke="#4a4a4a" stroke-width="3"/>
<ellipse cx="78.5" cy="625" rx="22.4" ry="16.7" fill="none" stroke="#b8b8b8" stroke-width="1"/>
<text x="78.5" y="633.82" text-anchor="middle" font-size="24.5" fill="#4c4c4c" stroke="#4c4c4c" stroke-width="0.6">12</text></g>
<g filter="url(#blur)"><ellipse cx="175.8" cy="775.7" rx="23.0" ry="21.5" fill="#fafafc" stroke="#4a4a4a" stroke-width="3"/>
<ellipse cx="175.8" cy="775.7" rx="20.9" ry="19.4" fill="none" stroke="#b8b8b8" stroke-width="1"/>
<text x="175.8" y="784.16" text-anchor="middle" font-size="23.5" fill="#4c4c4c" stroke="#4c4c4c" stroke-width="0.6">13</text></g>
<g filter="url(#blur)"><ellipse cx="860" cy="638" rx="22.1" ry="22.1" fill="#fafafc" stroke="#4a4a4a" stroke-width="3"/>
<ellipse cx="860" cy="638" rx="20.0" ry="20.0" fill="none" stroke="#b8b8b8" stroke-width="1"/>
<text x="860" y="648.44" text-anchor="middle" font-size="29" fill="#4c4c4c" stroke="#4c4c4c" stroke-width="0.6">2</text></g>
<g filter="url(#blur)"><ellipse cx="881.8" cy="712.7" rx="22.2" ry="22.2" fill="#fafafc" stroke="#4a4a4a" stroke-width="3"/>
<ellipse cx="881.8" cy="712.7" rx="20.099999999999998" ry="20.099999999999998" fill="none" stroke="#b8b8b8" stroke-width="1"/>
<text x="881.8" y="721.88" text-anchor="middle" font-size="25.5" fill="#4c4c4c" stroke="#4c4c4c" stroke-width="0.6">3</text></g>
<g filter="url(#blur)"><ellipse cx="869.4" cy="794.4" rx="22.6" ry="21.1" fill="#fafafc" stroke="#4a4a4a" stroke-width="3"/>
<ellipse cx="869.4" cy="794.4" rx="20.5" ry="19.0" fill="none" stroke="#b8b8b8" stroke-width="1"/>
<text x="869.4" y="804.48" text-anchor="middle" font-size="28" fill="#4c4c4c" stroke="#4c4c4c" stroke-width="0.6">2</text></g>
<g filter="url(#blur)"><ellipse cx="859.8" cy="881.2" rx="22.0" ry="21.7" fill="#fafafc" stroke="#4a4a4a" stroke-width="3"/>
<ellipse cx="859.8" cy="881.2" rx="19.9" ry="19.599999999999998" fill="none" stroke="#b8b8b8" stroke-width="1"/>
<text x="859.8" y="891.28" text-anchor="middle" font-size="28" fill="#4c4c4c" stroke="#4c4c4c" stroke-width="0.6">5</text></g>
<g filter="url(#blur)"><ellipse cx="93.4" cy="987.9" rx="21.1" ry="20.3" fill="#fafafc" stroke="#4a4a4a" stroke-width="3"/>
<ellipse cx="93.4" cy="987.9" rx="19.0" ry="18.2" fill="none" stroke="#b8b8b8" stroke-width="1"/>
<text x="93.4" y="996.54" text-anchor="middle" font-size="24" fill="#4c4c4c" stroke="#4c4c4c" stroke-width="0.6">11</text></g>
<g filter="url(#blur)"><ellipse cx="329.3" cy="976" rx="22.0" ry="19.9" fill="#fafafc" stroke="#4a4a4a" stroke-width="3"/>
<ellipse cx="329.3" cy="976" rx="19.9" ry="17.799999999999997" fill="none" stroke="#b8b8b8" stroke-width="1"/>
<text x="329.3" y="984.64" text-anchor="middle" font-size="24" fill="#4c4c4c" stroke="#4c4c4c" stroke-width="0.6">10</text></g>
<g filter="url(#blur)"><ellipse cx="97.5" cy="1225.7" rx="24.5" ry="19.5" fill="#fafafc" stroke="#4a4a4a" stroke-width="3"/>
<ellipse cx="97.5" cy="1225.7" rx="22.4" ry="17.4" fill="none" stroke="#b8b8b8" stroke-width="1"/>
<text x="97.5" y="1234.34" text-anchor="middle" font-size="24" fill="#4c4c4c" stroke="#4c4c4c" stroke-width="0.6">12</text></g>
<g filter="url(#blur)"><ellipse cx="292.6" cy="1165.6" rx="22.9" ry="20.3" fill="#fafafc" stroke="#4a4a4a" stroke-width="3"/>
<ellipse cx="292.6" cy="1165.6" rx="20.799999999999997" ry="18.2" fill="none" stroke="#b8b8b8" stroke-width="1"/>
<text x="292.6" y="1174.24" text-anchor="middle" font-size="24" fill="#4c4c4c" stroke="#4c4c4c" stroke-width="0.6">8</text></g>
<g filter="url(#blur)"><ellipse cx="481.7" cy="1241.8" rx="22.2" ry="20.3" fill="#fafafc" stroke="#4a4a4a" stroke-width="3"/>
<ellipse cx="481.7" cy="1241.8" rx="20.099999999999998" ry="18.2" fill="none" stroke="#b8b8b8" stroke-width="1"/>
<text x="481.7" y="1250.44" text-anchor="middle" font-size="24" fill="#4c4c4c" stroke="#4c4c4c" stroke-width="0.6">9</text></g>
<g filter="url(#blur)"><ellipse cx="614.9" cy="1178.6" rx="21.3" ry="20.0" fill="#fafafc" stroke="#4a4a4a" stroke-width="3"/>
<ellipse cx="614.9" cy="1178.6" rx="19.2" ry="17.9" fill="none" stroke="#b8b8b8" stroke-width="1"/>
<text x="614.9" y="1187.42" text-anchor="middle" font-size="24.5" fill="#4c4c4c" stroke="#4c4c4c" stroke-width="0.6">15</text></g>
<g filter="url(#blur)"><ellipse cx="655.1" cy="1209.3" rx="20.2" ry="19.4" fill="#fafafc" stroke="#4a4a4a" stroke-width="3"/>
<ellipse cx="655.1" cy="1209.3" rx="18.099999999999998" ry="17.299999999999997" fill="none" stroke="#b8b8b8" stroke-width="1"/>
<text x="655.1" y="1217.94" text-anchor="middle" font-size="24" fill="#4c4c4c" stroke="#4c4c4c" stroke-width="0.6">8</text></g>
<g filter="url(#blur)"><ellipse cx="701.5" cy="1203.2" rx="20.5" ry="17.8" fill="#fafafc" stroke="#4a4a4a" stroke-width="3"/>
<ellipse cx="701.5" cy="1203.2" rx="18.4" ry="15.700000000000001" fill="none" stroke="#b8b8b8" stroke-width="1"/>
<text x="701.5" y="1211.48" text-anchor="middle" font-size="23" fill="#4c4c4c" stroke="#4c4c4c" stroke-width="0.6">16</text></g>
<g filter="url(#blur)"><ellipse cx="655.4" cy="1260.2" rx="21.5" ry="19.7" fill="#fafafc" stroke="#4a4a4a" stroke-width="3"/>
<ellipse cx="655.4" cy="1260.2" rx="19.4" ry="17.599999999999998" fill="none" stroke="#b8b8b8" stroke-width="1"/>
<text x="655.4" y="1268.84" text-anchor="middle" font-size="24" fill="#4c4c4c" stroke="#4c4c4c" stroke-width="0.6">7</text></g>
<rect x="1056" y="400.00" width="264" height="35.33" fill="#d8d8d8"/>
<rect x="1056" y="505.99" width="264" height="35.33" fill="#d8d8d8"/>
<rect x="1056" y="576.65" width="264" height="35.33" fill="#d8d8d8"/>
<rect x="1056" y="647.31" width="264" height="35.33" fill="#d8d8d8"/>
<rect x="1056" y="717.97" width="264" height="35.33" fill="#d8d8d8"/>
<rect x="1056" y="1071.27" width="264" height="35.33" fill="#d8d8d8"/>
<rect x="1056" y="1141.93" width="264" height="35.33" fill="#d8d8d8"/>
<rect x="1056" y="1283.25" width="264" height="35.33" fill="#d8d8d8"/>
<text x="1082" y="391.97" text-anchor="middle">1</text>
<text x="1191.5" y="391.97" text-anchor="middle">N9041880</text>
<text x="1284.5" y="391.97">AIRCLEANER ASSY</text>
<text x="1082" y="427.30" text-anchor="middle">1A</text>
<text x="1191.5" y="427.30" text-anchor="middle">N9042180</text>
<text x="1284.5" y="427.30">AIRCLEANER ASSY</text>
<text x="1082" y="462.63" text-anchor="middle">1B</text>
<text x="1191.5" y="462.63" text-anchor="middle">NF040180</text>
<text x="1284.5" y="462.63">AIRCLEANER ASSY</text>
<text x="1082" y="497.96" text-anchor="middle">2</text>
<text x="1191.5" y="497.96" text-anchor="middle">N9042000</text>
<text x="1284.5" y="497.96">SEAL</text>
<text x="1082" y="533.29" text-anchor="middle">2A</text>
<text x="1191.5" y="533.29" text-anchor="middle">NF040380</text>
<text x="1284.5" y="533.29">SEAL</text>
<text x="1082" y="568.62" text-anchor="middle">3</text>
<text x="1191.5" y="568.62" text-anchor="middle">N9041910</text>
<text x="1284.5" y="568.62">FILTER ELEMENT</text>
<text x="1082" y="603.95" text-anchor="middle">3A</text>
<text x="1191.5" y="603.95" text-anchor="middle">NF040370</text>
<text x="1284.5" y="603.95">FILTER ELEMENT</text>
<text x="1082" y="639.28" text-anchor="middle">4</text>
<text x="1191.5" y="639.28" text-anchor="middle">N9041940</text>
<text x="1284.5" y="639.28">TOP COVER</text>
<text x="1082" y="674.61" text-anchor="middle">4A</text>
<text x="1191.5" y="671.41" text-anchor="middle">NF040360</text>
<text x="1284.5" y="674.61">TOP COVER</text>
<text x="1082" y="709.94" text-anchor="middle">5</text>
<text x="1191.5" y="707.34" text-anchor="middle">N9325770</text>
<text x="1284.5" y="709.94">CASE</text>
<text x="1082" y="745.27" text-anchor="middle">5A</text>
<text x="1195" y="745.27" text-anchor="middle">---</text>
<text x="1284.5" y="745.27">CASE</text>
<text x="1082" y="780.60" text-anchor="middle">5B</text>
<text x="1195" y="780.60" text-anchor="middle">---</text>
<text x="1284.5" y="780.60">CASE</text>
<text x="1082" y="815.93" text-anchor="middle">6</text>
<text x="1191.5" y="815.93" text-anchor="middle">M1200660</text>
<text x="1284.5" y="815.93">CREW</text>
<text x="1082" y="851.26" text-anchor="middle">7</text>
<text x="1191.5" y="851.26" text-anchor="middle">G4040330</text>
<text x="1284.5" y="851.26">DRAIN</text>
<text x="1082" y="886.59" text-anchor="middle">8</text>
<text x="1191.5" y="886.59" text-anchor="middle">K140820</text>
<text x="1284.5" y="886.59">HOSE CLIP</text>
<text x="1082" y="921.92" text-anchor="middle">9</text>
<text x="1191.5" y="921.92" text-anchor="middle">N9042140</text>
<text x="1284.5" y="921.92">HOSE</text>
<text x="1082" y="957.25" text-anchor="middle">10</text>
<text x="1191.5" y="957.25" text-anchor="middle">N9041930</text>
<text x="1284.5" y="957.25">TUBE</text>
<text x="1082" y="992.58" text-anchor="middle">11</text>
<text x="1191.5" y="992.58" text-anchor="middle">S1200920</text>
<text x="1284.5" y="992.58">HOSE CLIP</text>
<text x="1082" y="1027.91" text-anchor="middle">12</text>
<text x="1191.5" y="1027.91" text-anchor="middle">G4041100</text>
<text x="1284.5" y="1027.91">CLAMP</text>
<text x="1082" y="1063.24" text-anchor="middle">13</text>
<text x="1191.5" y="1063.24" text-anchor="middle">N9042010</text>
<text x="1284.5" y="1063.24">RESONATOR</text>
<text x="1082" y="1098.57" text-anchor="middle">13A</text>
<text x="1195" y="1098.57" text-anchor="middle">---</text>
<text x="1284.5" y="1098.57">INTAKE</text>
<text x="1082" y="1133.90" text-anchor="middle">14</text>
<text x="1191.5" y="1133.90" text-anchor="middle">N9041920</text>
<text x="1284.5" y="1133.90">TUBE</text>
<text x="1082" y="1169.23" text-anchor="middle">14A</text>
<text x="1191.5" y="1169.23" text-anchor="middle">NF040390</text>
<text x="1284.5" y="1169.23">TUBE</text>
<text x="1082" y="1204.56" text-anchor="middle">15</text>
<text x="1191.5" y="1204.56" text-anchor="middle">0335608</text>
<text x="1284.5" y="1204.56">PUMP</text>
<text x="1082" y="1239.89" text-anchor="middle">16</text>
<text x="1191.5" y="1239.89" text-anchor="middle">0332275</text>
<text x="1284.5" y="1239.89">SCREW</text>
<text x="1082" y="1275.22" text-anchor="middle">17</text>
<text x="1191.5" y="1275.22" text-anchor="middle">N9042200</text>
<text x="1284.5" y="1275.22">TUBE</text>
<text x="1082" y="1310.55" text-anchor="middle">17A</text>
<text x="1191.5" y="1307.15" text-anchor="middle">NF040190</text>
<text x="1284.5" y="1310.55">TUBE</text>
<text x="1082" y="1345.88" text-anchor="middle">18</text>
<text x="1191.5" y="1342.88" text-anchor="middle">N9042370</text>
<text x="1284.5" y="1345.88">SHROUD</text>
<text x="1082" y="1381.21" text-anchor="middle">19</text>
<text x="1191.5" y="1378.21" text-anchor="middle">ND040210</text>
<text x="1284.5" y="1381.21">RETAINER</text>
<text x="1082" y="1415.04" text-anchor="middle">20</text>
<text x="1191.5" y="1415.04" text-anchor="middle">N9042370</text>
<text x="1284.5" y="1415.04">RUBBER</text>
<rect x="1051" y="142" width="269" height="5" fill="#000"/>
<rect x="1051" y="142" width="5" height="1285" fill="#000"/>
<rect x="1051" y="254" width="269" height="5" fill="#000"/>
<rect x="1051" y="362" width="269" height="5" fill="#000"/>
<rect x="1051" y="1422" width="269" height="5" fill="#000"/>
<rect x="1107" y="259" width="2" height="1163" fill="#000"/>
<rect x="1272" y="259" width="2" height="1163" fill="#000"/>
<text x="1082" y="320" text-anchor="middle">REF</text>
<text x="1082" y="355" text-anchor="middle">NO.</text>
<text x="1192.2" y="320" text-anchor="middle" font-size="25">PART</text>
<text x="1191.3" y="354.8" text-anchor="middle" font-size="25">NO.</text>
<text x="1318.4" y="211" font-size="22">AIRCLEANER ASSEMBLY</text>
</svg>
</body></html>
